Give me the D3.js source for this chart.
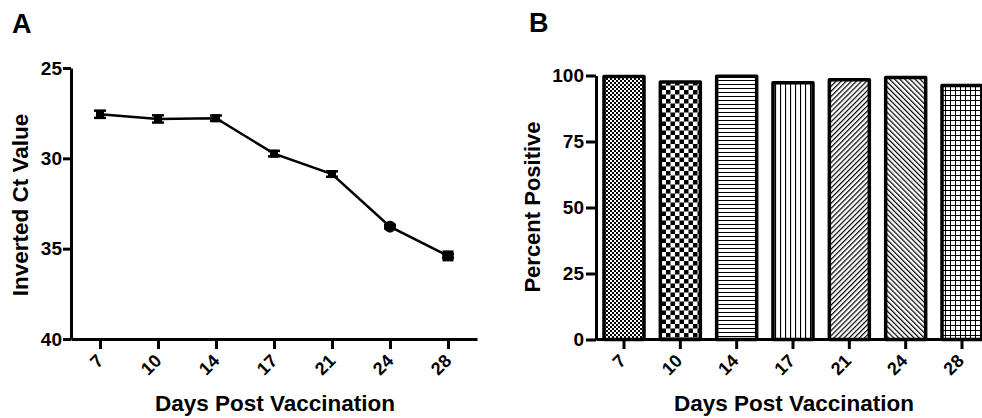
<html>
<head>
    <meta charset="utf-8">
    <script src="https://d3js.org/d3.v7.min.js"></script>
    <title>Days post vaccination</title>
    <style>
        body { margin: 0; background: #fff; }
        svg text { font-family: "Liberation Sans", Arial, sans-serif; font-weight: bold; fill: #000; }
        .axis .domain { stroke: #000; stroke-width: 3; }
        .axis .tick line { stroke: #000; stroke-width: 3; }
        .y.axis .tick text { font-size: 19px; }
        .x.axis .tick text { font-size: 18px; }
    </style>
</head>
<body>
<svg id="fig"></svg>
<script>
    // data
    const days = ["7", "10", "14", "17", "21", "24", "28"];
    const ctMean = [27.56, 27.82, 27.78, 29.74, 30.87, 33.78, 35.40];
    const ctErr = [0.2, 0.2, 0.15, 0.15, 0.15, 0.1, 0.1];
    const ctTicks = [25, 30, 35, 40];
    const pctPositive = [99.6, 97.5, 99.7, 97.3, 98.4, 99.2, 96.2];
    const pctTicks = [0, 25, 50, 75, 100];

    // styling only
    const markerShape = ["square", "square", "square", "square", "square", "circle", "bigsquare"];
    const barPattern = ["pFineCheck", "pCheck", "pHoriz", "pVert", "pDiagR", "pDiagL", "pGrid"];

    const width = 982, height = 418;
    let svg = d3.select("svg#fig")
                .attr("width", width)
                .attr("height", height);

    // ---- patterns for the bars
    let defs = svg.append("defs");
    function pattern(id, w, h, transform) {
        let p = defs.append("pattern")
                    .attr("id", id)
                    .attr("patternUnits", "userSpaceOnUse")
                    .attr("width", w)
                    .attr("height", h);
        if (transform) p.attr("patternTransform", transform);
        p.append("rect").attr("width", w).attr("height", h).attr("fill", "#fff");
        return p;
    }
    let p1 = pattern("pFineCheck", 4, 4);
    p1.append("rect").attr("x", 0).attr("y", 0).attr("width", 2).attr("height", 2).attr("fill", "#000");
    p1.append("rect").attr("x", 2).attr("y", 2).attr("width", 2).attr("height", 2).attr("fill", "#000");
    let p2 = pattern("pCheck", 9, 9);
    p2.append("rect").attr("x", 0).attr("y", 0).attr("width", 4.5).attr("height", 4.5).attr("fill", "#000");
    p2.append("rect").attr("x", 4.5).attr("y", 4.5).attr("width", 4.5).attr("height", 4.5).attr("fill", "#000");
    pattern("pHoriz", 4, 4).append("line")
        .attr("x1", 0).attr("x2", 4).attr("y1", 0.5).attr("y2", 0.5)
        .attr("stroke", "#000").attr("stroke-width", 1);
    pattern("pVert", 5, 5).append("line")
        .attr("x1", 0.5).attr("x2", 0.5).attr("y1", 0).attr("y2", 5)
        .attr("stroke", "#000").attr("stroke-width", 1.2);
    pattern("pDiagR", 3.6, 10, "rotate(45)").append("line")
        .attr("x1", 0.6).attr("x2", 0.6).attr("y1", 0).attr("y2", 10)
        .attr("stroke", "#000").attr("stroke-width", 1.2);
    pattern("pDiagL", 3.6, 10, "rotate(-45)").append("line")
        .attr("x1", 0.6).attr("x2", 0.6).attr("y1", 0).attr("y2", 10)
        .attr("stroke", "#000").attr("stroke-width", 1.2);
    let p7 = pattern("pGrid", 5, 5);
    p7.append("line").attr("x1", 0).attr("x2", 5).attr("y1", 0.5).attr("y2", 0.5)
      .attr("stroke", "#000").attr("stroke-width", 1);
    p7.append("line").attr("x1", 0.5).attr("x2", 0.5).attr("y1", 0).attr("y2", 5)
      .attr("stroke", "#000").attr("stroke-width", 1);

    // ================= Panel A =================
    const xA = d3.scalePoint()
                 .domain(days)
                 .range([71, 477])
                 .padding(0.5);
    const yA = d3.scaleLinear()
                 .domain([25, 40])
                 .range([68, 339]);

    let gA = svg.append("g");

    // line
    let lineA = d3.line()
                  .x((d, i) => xA(days[i]))
                  .y(d => yA(d));
    gA.append("path")
      .datum(ctMean)
      .attr("d", lineA)
      .attr("fill", "none")
      .attr("stroke", "#000")
      .attr("stroke-width", 2.5);

    // error bars
    ctMean.forEach((m, i) => {
        let x = xA(days[i]);
        let lo = yA(m - ctErr[i]), hi = yA(m + ctErr[i]);
        gA.append("line").attr("x1", x).attr("x2", x).attr("y1", lo).attr("y2", hi)
          .attr("stroke", "#000").attr("stroke-width", 2.5);
        [lo, hi].forEach(yy => {
            gA.append("line").attr("x1", x - 6).attr("x2", x + 6).attr("y1", yy).attr("y2", yy)
              .attr("stroke", "#000").attr("stroke-width", 2.5);
        });
    });

    // markers
    ctMean.forEach((m, i) => {
        let x = xA(days[i]), y = yA(m);
        if (markerShape[i] == "circle") {
            gA.append("circle").attr("cx", x).attr("cy", y).attr("r", 6).attr("fill", "#000");
        } else {
            let s = markerShape[i] == "bigsquare" ? 11 : 8;
            gA.append("rect").attr("x", x - s / 2).attr("y", y - s / 2)
              .attr("width", s).attr("height", s).attr("fill", "#000");
        }
    });

    // axes
    svg.append("g")
       .attr("class", "y axis")
       .attr("transform", "translate(71,0)")
       .call(d3.axisLeft(yA).tickValues(ctTicks).tickSize(8).tickPadding(1).tickSizeOuter(0));

    let xAxisA = svg.append("g")
       .attr("class", "x axis")
       .attr("transform", "translate(0,339)")
       .call(d3.axisBottom(xA).tickSize(10).tickSizeOuter(0));
    xAxisA.selectAll(".tick text")
          .attr("x", 0).attr("y", 0).attr("dy", 0)
          .attr("text-anchor", "end")
          .attr("transform", "translate(4,23) rotate(-45)");

    svg.append("text")
       .attr("x", 12).attr("y", 33)
       .style("font-size", "27px")
       .text("A");
    svg.append("text")
       .attr("transform", "translate(28,205) rotate(-90)")
       .attr("text-anchor", "middle")
       .style("font-size", "22.5px")
       .text("Inverted Ct Value");
    svg.append("text")
       .attr("x", 275).attr("y", 411)
       .attr("text-anchor", "middle")
       .style("font-size", "22.5px")
       .text("Days Post Vaccination");

    // ================= Panel B =================
    const xB = d3.scaleBand()
                 .domain(days)
                 .range([596, 990])
                 .paddingInner(0.29)
                 .paddingOuter(0.142);
    const yB = d3.scaleLinear()
                 .domain([0, 100])
                 .range([339.5, 75.5]);

    svg.append("g")
       .selectAll("rect")
       .data(pctPositive)
       .join("rect")
       .attr("x", (d, i) => xB(days[i]))
       .attr("y", d => yB(d))
       .attr("width", xB.bandwidth())
       .attr("height", d => yB(0) - yB(d))
       .attr("fill", (d, i) => `url(#${barPattern[i]})`)
       .attr("stroke", "#000")
       .attr("stroke-width", 3.5)
       .attr("stroke-linejoin", "round");

    svg.append("g")
       .attr("class", "y axis")
       .attr("transform", "translate(596,0)")
       .call(d3.axisLeft(yB).tickValues(pctTicks).tickSize(10).tickPadding(2).tickSizeOuter(0));

    let xAxisB = svg.append("g")
       .attr("class", "x axis")
       .attr("transform", "translate(0,339)")
       .call(d3.axisBottom(xB).tickSize(10).tickSizeOuter(0));
    xAxisB.selectAll(".tick text")
          .attr("x", 0).attr("y", 0).attr("dy", 0)
          .attr("text-anchor", "end")
          .attr("transform", "translate(3,23) rotate(-45)");

    svg.append("text")
       .attr("x", 529).attr("y", 32)
       .style("font-size", "27px")
       .text("B");
    svg.append("text")
       .attr("transform", "translate(540,207) rotate(-90)")
       .attr("text-anchor", "middle")
       .style("font-size", "22px")
       .text("Percent Positive");
    svg.append("text")
       .attr("x", 794).attr("y", 411)
       .attr("text-anchor", "middle")
       .style("font-size", "22.5px")
       .text("Days Post Vaccination");
</script>
</body>
</html>
